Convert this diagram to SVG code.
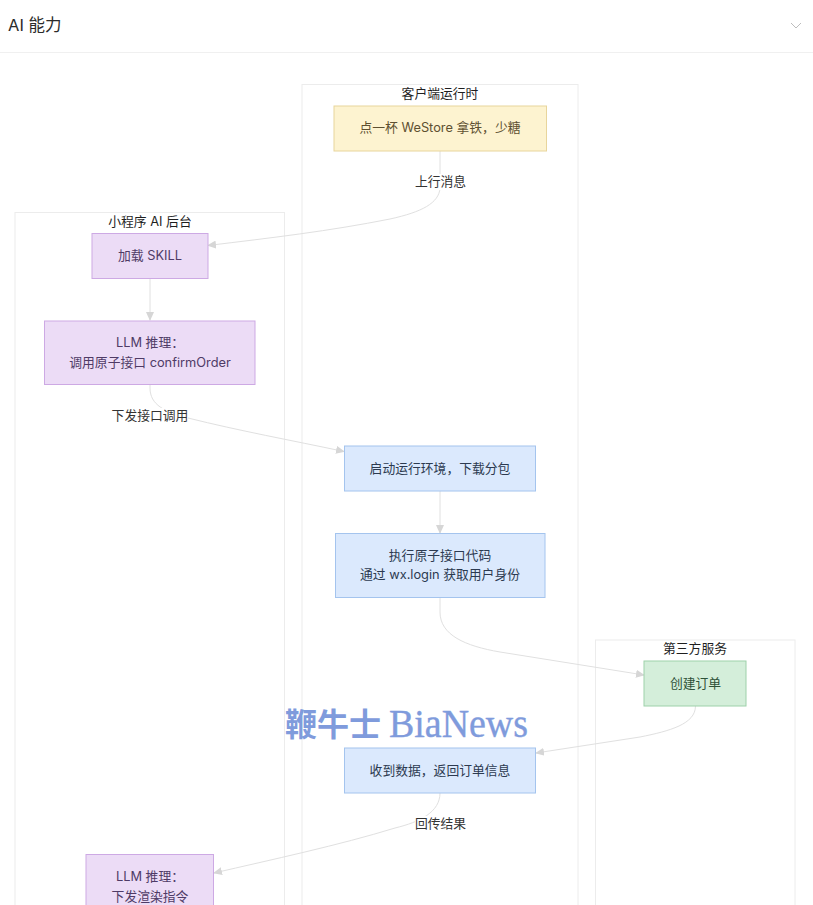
<svg xmlns="http://www.w3.org/2000/svg" width="813" height="905" viewBox="0 0 813 905">
<style>
text{font-family:"Inter","Liberation Sans","Noto Sans CJK SC",sans-serif;text-anchor:middle;font-size:12.8px}
.cluster{fill:#fff;stroke:#ececec;stroke-width:1}
.ct{fill:#1f1f1f}
.n{stroke-width:1}
.p{fill:#ecdcf6;stroke:#cda9e4}.pt{fill:#4f3b66}
.y{fill:#fdf3d0;stroke:#e8d59c}.yt{fill:#5e5030}
.b{fill:#dbe9fd;stroke:#a4c4ee}.bt{fill:#2c3a50}
.g{fill:#d4eeda;stroke:#9ed1aa}.gt{fill:#2e5138}
.e{fill:none;stroke:#e0e0e0;stroke-width:1;marker-end:url(#a)}
.lb{fill:#fff;stroke:none}
.l{fill:#333}
.w{fill:#7f9bdc;text-anchor:start}
</style>
<defs><marker id="a" markerWidth="9" markerHeight="8" refX="8" refY="4" orient="auto" markerUnits="userSpaceOnUse"><path d="M0 0L9 4L0 8z" fill="#d6d6d6"/></marker></defs>
<rect width="813" height="905" fill="#fff"/>
<g id="header">
<text x="8" y="31" style="text-anchor:start;font-size:16.500px" fill="#2b2b2b">AI 能力</text>
<path d="M791 23l5 5l5-5" fill="none" stroke="#bdbdbd" stroke-width="1"/>
<path d="M0 52.500H813" stroke="#f0f0f0" stroke-width="1"/>
</g>
<g id="clusters">
<g id="c-client"><rect class="cluster" x="302" y="84.500" width="276" height="840"/><text class="ct" x="440" y="98">客户端运行时</text></g>
<g id="c-backend"><rect class="cluster" x="15" y="212.500" width="269.500" height="712"/><text class="ct" x="150" y="226">小程序 AI 后台</text></g>
<g id="c-third"><rect class="cluster" x="595.500" y="640" width="199.500" height="285"/><text class="ct" x="695" y="653">第三方服务</text></g>
</g>
<g id="connectors">
<path class="e" d="M440 151V188C439 203 422 212 390 219C330 231 270 238 208 245.500"/>
<path class="e" d="M150 279V320"/>
<path class="e" d="M150 385V388C150 405 165 412 188 418C240 431 290 440 344 451.500"/>
<path class="e" d="M440 491V533"/>
<path class="e" d="M440 598V612C440 635 465 646 500 652L644 675"/>
<path class="e" d="M695.500 706C695.500 724 670 731 640 737L536 753"/>
<path class="e" d="M440 793C440 812 420 822 395 828C340 845 270 860 214 873"/>
</g>
<g id="edge-labels">
<rect class="lb" x="415" y="174" width="51" height="16"/><text class="l" x="440.500" y="186">上行消息</text>
<rect class="lb" x="112" y="408" width="76" height="16"/><text class="l" x="150" y="420">下发接口调用</text>
<rect class="lb" x="415" y="816" width="51" height="16"/><text class="l" x="440.500" y="828">回传结果</text>
</g>
<g id="n-order"><rect class="n y" x="334" y="106" width="212.500" height="45"/><text class="yt" x="440" y="132">点一杯 WeStore 拿铁，少糖</text></g>
<g id="n-skill"><rect class="n p" x="92" y="233.500" width="116" height="45"/><text class="pt" x="150" y="260">加载 SKILL</text></g>
<g id="n-llm1"><rect class="n p" x="44.500" y="321" width="210.500" height="63.500"/><text class="pt" x="150" y="347">LLM 推理：</text><text class="pt" x="150" y="367">调用原子接口 confirmOrder</text></g>
<g id="n-env"><rect class="n b" x="344.500" y="446" width="191" height="45"/><text class="bt" x="440" y="473">启动运行环境，下载分包</text></g>
<g id="n-exec"><rect class="n b" x="335.500" y="533.500" width="209.500" height="64"/><text class="bt" x="440" y="560">执行原子接口代码</text><text class="bt" x="440" y="579">通过 wx.login 获取用户身份</text></g>
<g id="n-create"><rect class="n g" x="644" y="661" width="102" height="45"/><text class="gt" x="695.500" y="688">创建订单</text></g>
<g id="n-recv"><rect class="n b" x="344.500" y="748" width="191" height="45"/><text class="bt" x="440" y="775">收到数据，返回订单信息</text></g>
<g id="n-llm2"><rect class="n p" x="86" y="854.500" width="127.500" height="64"/><text class="pt" x="150" y="881">LLM 推理：</text><text class="pt" x="150" y="901">下发渲染指令</text></g>
<g id="watermark"><text class="w" x="285" y="736" style="font-family:'Noto Sans CJK SC',sans-serif;font-weight:700;font-size:32px">鞭牛士</text><text class="w" x="389" y="737" style="font-family:'Liberation Serif',serif;font-size:41px" stroke="#7f9bdc" stroke-width=".4" textLength="139" lengthAdjust="spacingAndGlyphs">BiaNews</text></g>
</svg>
